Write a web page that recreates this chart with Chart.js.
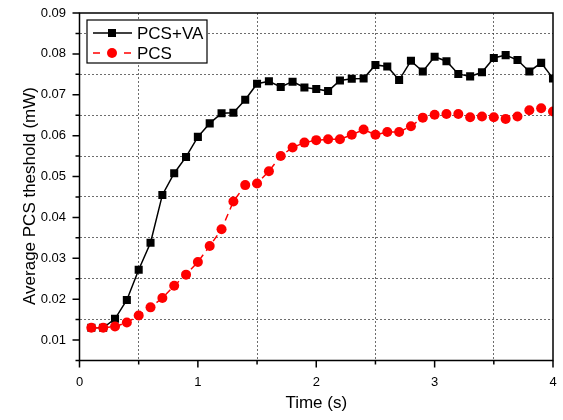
<!DOCTYPE html>
<html><head><meta charset="utf-8">
<script src="https://cdn.jsdelivr.net/npm/chart.js@4.4.1/dist/chart.umd.min.js"></script>
<style>html,body{margin:0;padding:0;background:#fff}#wrap{width:563px;height:420px}</style>
</head><body><div id="wrap"><canvas id="c" width="563" height="420"></canvas></div>
<script>
// ---- data ----
const times = [0.1,0.2,0.3,0.4,0.5,0.6,0.7,0.8,0.9,1.0,1.1,1.2,1.3,1.4,1.5,1.6,1.7,1.8,1.9,2.0,2.1,2.2,2.3,2.4,2.5,2.6,2.7,2.8,2.9,3.0,3.1,3.2,3.3,3.4,3.5,3.6,3.7,3.8,3.9,4.0];
const pcsVA = [0.0130,0.0130,0.0152,0.0198,0.0272,0.0338,0.0455,0.0508,0.0548,0.0597,0.0630,0.0655,0.0656,0.0688,0.0727,0.0733,0.0719,0.0732,0.0718,0.0714,0.0709,0.0735,0.0739,0.0740,0.0773,0.0769,0.0736,0.0783,0.0757,0.0793,0.0782,0.0751,0.0745,0.0755,0.0790,0.0797,0.0785,0.0757,0.0778,0.0740];
const pcs = [0.0130,0.0130,0.0133,0.0143,0.0160,0.0180,0.0203,0.0233,0.0260,0.0291,0.0330,0.0371,0.0439,0.0479,0.0483,0.0513,0.0550,0.0571,0.0583,0.0589,0.0591,0.0591,0.0602,0.0615,0.0602,0.0609,0.0609,0.0623,0.0644,0.0651,0.0653,0.0653,0.0645,0.0647,0.0645,0.0641,0.0647,0.0662,0.0667,0.0659];
const seriesNames = ['PCS+VA', 'PCS'];
const xMajor = [0, 1, 2, 3, 4];
const xMinor = [0.5, 1.5, 2.5, 3.5];
const xTickLabels = ['0', '1', '2', '3', '4'];
const yMajor = [0.01, 0.02, 0.03, 0.04, 0.05, 0.06, 0.07, 0.08, 0.09];
const yMinor = [0.005, 0.015, 0.025, 0.035, 0.045, 0.055, 0.065, 0.075, 0.085];
const yTickLabels = ['0.01', '0.02', '0.03', '0.04', '0.05', '0.06', '0.07', '0.08', '0.09'];
const xTitle = 'Time (s)';
const yTitle = 'Average PCS theshold (mW)';

const FONT = "'Liberation Sans', Arial, sans-serif";
Chart.defaults.font.family = FONT;

const near = (a, b) => Math.abs(a - b) < 1e-9;
const isMinor = (list, v) => list.some(m => near(m, v));
const labelFor = (majors, labels, v) => { const i = majors.findIndex(m => near(m, v)); return i >= 0 ? labels[i] : ''; };
const allTicks = (a, b) => a.concat(b).sort((p, q) => p - q).map(v => ({value: v}));

const GRID = 'rgba(60,60,60,0.75)';

const decor = {
  id: 'decor',
  afterDraw(chart) {
    const {ctx, chartArea: a, scales: {x, y}} = chart;
    ctx.save();
    ctx.strokeStyle = '#000';
    ctx.lineWidth = 1.5;
    // tick marks
    ctx.beginPath();
    yMajor.forEach(v => { const p = y.getPixelForValue(v); ctx.moveTo(a.left - 7, p); ctx.lineTo(a.left, p); });
    yMinor.forEach(v => { const p = y.getPixelForValue(v); ctx.moveTo(a.left - 4, p); ctx.lineTo(a.left, p); });
    xMajor.forEach(v => { const p = x.getPixelForValue(v); ctx.moveTo(p, a.bottom); ctx.lineTo(p, a.bottom + 7); });
    xMinor.forEach(v => { const p = x.getPixelForValue(v); ctx.moveTo(p, a.bottom); ctx.lineTo(p, a.bottom + 4); });
    ctx.stroke();
    // frame
    ctx.strokeRect(a.left, a.top, a.right - a.left, a.bottom - a.top);
    // axis titles
    ctx.fillStyle = '#000';
    ctx.font = '17px ' + FONT;
    ctx.textAlign = 'center';
    ctx.textBaseline = 'middle';
    ctx.fillText(xTitle, (a.left + a.right) / 2, 403);
    ctx.save();
    ctx.translate(30, 196);
    ctx.rotate(-Math.PI / 2);
    ctx.fillText(yTitle, 0, 0);
    ctx.restore();
    // legend
    const bx = 87, by = 20, bw = 120, bh = 43;
    ctx.fillStyle = '#fff';
    ctx.fillRect(bx, by, bw, bh);
    ctx.lineWidth = 1.2;
    ctx.strokeStyle = '#000';
    ctx.strokeRect(bx, by, bw, bh);
    const r1 = 33, r2 = 53;
    ctx.lineWidth = 1.5;
    ctx.beginPath(); ctx.moveTo(93, r1); ctx.lineTo(132, r1); ctx.stroke();
    ctx.fillStyle = '#000';
    ctx.fillRect(108, r1 - 4, 8, 8);
    ctx.strokeStyle = '#ff0000';
    ctx.beginPath(); ctx.moveTo(93, r2); ctx.lineTo(100, r2); ctx.moveTo(124, r2); ctx.lineTo(131, r2); ctx.stroke();
    ctx.fillStyle = '#ff0000';
    ctx.beginPath(); ctx.arc(112, r2, 5, 0, Math.PI * 2); ctx.fill();
    ctx.fillStyle = '#000';
    ctx.textAlign = 'left';
    ctx.font = '17px ' + FONT;
    ctx.fillText(seriesNames[0], 137, r1 + 1);
    ctx.fillText(seriesNames[1], 137, r2 + 1);
    ctx.restore();
  }
};

new Chart(document.getElementById('c'), {
  type: 'line',
  data: {
    datasets: [
      {
        label: seriesNames[1], order: 0,
        data: times.map((t, i) => ({x: t, y: pcs[i]})),
        borderColor: '#ff0000', borderWidth: 1.5, borderDash: [7, 5],
        pointStyle: 'circle', pointRadius: 5, pointBackgroundColor: '#ff0000', pointBorderWidth: 0,
        tension: 0, fill: false
      },
      {
        label: seriesNames[0], order: 1,
        data: times.map((t, i) => ({x: t, y: pcsVA[i]})),
        borderColor: '#000', borderWidth: 1.5,
        pointStyle: 'rect', pointRadius: 5.7, pointBackgroundColor: '#000', pointBorderWidth: 0,
        tension: 0, fill: false
      }
    ]
  },
  options: {
    responsive: false, animation: false, devicePixelRatio: 1,
    layout: {padding: {top: 13, right: 10, left: 0, bottom: 0}},
    plugins: {legend: {display: false}, tooltip: {enabled: false}},
    scales: {
      x: {
        type: 'linear', position: 'bottom', min: 0, max: 4,
        afterBuildTicks: s => { s.ticks = allTicks(xMajor, xMinor); },
        afterFit: s => { s.height = 59.5; s.paddingLeft = 0; s.paddingRight = 0; },
        grid: {drawTicks: false, lineWidth: 1, color: c => (c.tick && isMinor(xMinor, c.tick.value)) ? GRID : 'rgba(0,0,0,0)'},
        border: {display: false, dash: [2, 2]},
        ticks: {autoSkip: false, maxRotation: 0, padding: 14, color: '#000', font: {size: 13}, callback: v => labelFor(xMajor, xTickLabels, v)}
      },
      y: {
        type: 'linear', position: 'left', min: 0.005, max: 0.09,
        afterBuildTicks: s => { s.ticks = allTicks(yMajor, yMinor); },
        afterFit: s => { s.width = 79.5; s.paddingTop = 0; s.paddingBottom = 0; },
        grid: {drawTicks: false, lineWidth: 1, color: c => (c.tick && isMinor(yMinor, c.tick.value) && !near(c.tick.value, 0.005)) ? GRID : 'rgba(0,0,0,0)'},
        border: {display: false, dash: [2, 2]},
        ticks: {autoSkip: false, padding: 13.5, color: '#000', font: {size: 13}, callback: v => labelFor(yMajor, yTickLabels, v)}
      }
    }
  },
  plugins: [decor]
});
</script>
</body></html>
